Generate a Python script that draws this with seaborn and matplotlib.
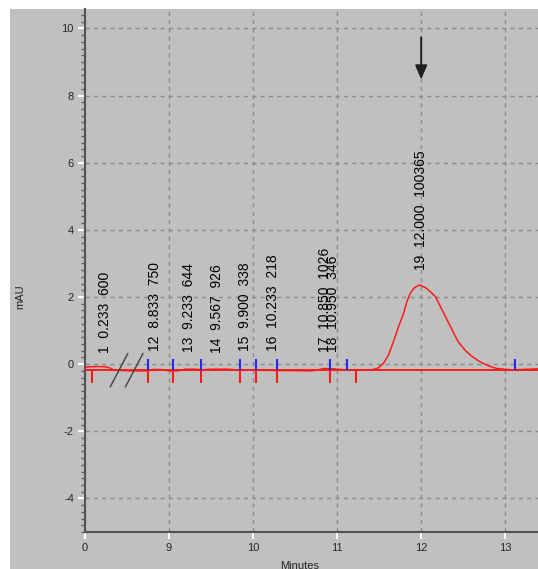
import matplotlib
matplotlib.use("Agg")
import matplotlib.pyplot as plt
import matplotlib.ticker as mticker
from matplotlib.patches import Rectangle
import numpy as np
import pandas as pd
import seaborn as sns

# ---- data (minutes / mAU) ----
# axis is broken: the first minute is drawn just before 8 min
trace_t = [0.00, 0.05, 0.15, 0.25, 0.30, 0.35, 0.45,
           8.55, 8.75, 8.80, 8.90, 9.00, 9.10, 9.20, 9.30, 9.40, 9.50, 9.70,
           9.85, 10.00, 10.30, 10.70, 10.85, 10.95, 11.10, 11.30,
           11.43, 11.49, 11.55, 11.61, 11.67, 11.73, 11.79, 11.83, 11.87, 11.92, 11.98,
           12.05, 12.11, 12.17, 12.23, 12.29, 12.37, 12.44, 12.52, 12.60, 12.70,
           12.80, 12.90, 13.08, 13.39]
trace_mau = [-0.10, -0.08, -0.07, -0.08, -0.12, -0.18, -0.19,
             -0.20, -0.20, -0.16, -0.16, -0.20, -0.20, -0.15, -0.15, -0.17, -0.15, -0.15,
             -0.18, -0.18, -0.19, -0.20, -0.13, -0.14, -0.17, -0.18,
             -0.16, -0.11, 0.02, 0.27, 0.67, 1.11, 1.51, 1.86, 2.11, 2.28, 2.36,
             2.28, 2.16, 2.01, 1.71, 1.41, 1.01, 0.67, 0.42, 0.24, 0.07,
             -0.05, -0.13, -0.17, -0.14]
baseline_mau = -0.18

peak_no = [1, 12, 13, 14, 15, 16, 17, 18, 19]
peak_rt = [0.233, 8.833, 9.233, 9.567, 9.900, 10.233, 10.850, 10.950, 12.000]
peak_area = [600, 750, 644, 926, 338, 218, 1026, 346, 100365]
peak_height = [-0.12, -0.05, -0.10, -0.12, -0.05, -0.05, -0.10, -0.10, 2.36]

start_marks = [8.754, 9.05, 9.38, 9.84, 10.04, 10.29, 10.917, 11.12, 13.12]
end_marks = [0.08, 8.754, 9.05, 9.38, 9.84, 10.04, 10.29, 10.917, 11.226]

x_ticks = [0, 9, 10, 11, 12, 13]
y_ticks = [-4, -2, 0, 2, 4, 6, 8, 10]
arrow_rt = 12.0
BREAK_OFFSET = 8.0   # minutes added to the early segment


def to_axis(t):
    t = np.asarray(t, dtype=float)
    return np.where(t < 1.0, t + BREAK_OFFSET, t)


sns.set_style("ticks")
plt.rcParams["font.family"] = ["Liberation Sans", "DejaVu Sans"]
plt.rcParams["axes.unicode_minus"] = False

W, H = 538, 569
fig = plt.figure(figsize=(W / 100, H / 100), dpi=100)
fig.patch.set_facecolor("white")
fig.patches.append(Rectangle((10 / W, 0), 1, 1 - 9 / H, transform=fig.transFigure,
                             facecolor="#c0c0c0", edgecolor="none", zorder=-10))

ax = fig.add_axes([85 / W, (H - 532) / H, (W - 85) / W, (532 - 9) / H])
ax.set_facecolor("#c0c0c0")

df = pd.DataFrame({"u": to_axis(trace_t), "mau": trace_mau})
sns.lineplot(data=df, x="u", y="mau", ax=ax, color="#ff1a1a", lw=1.1,
             sort=False, estimator=None, zorder=4)
ax.axhline(baseline_mau, color="#ff1a1a", lw=1.4, zorder=3)

# integration marks
ax.vlines(to_axis(start_marks), baseline_mau, baseline_mau + 0.33, color="#2626ff", lw=1.5, zorder=5)
ax.vlines(to_axis(end_marks), baseline_mau - 0.38, baseline_mau, color="#ff1a1a", lw=1.5, zorder=5)

# peak labels
for n, rt, area, h in zip(peak_no, peak_rt, peak_area, peak_height):
    ax.text(to_axis(rt), h + 0.45, f"{n}  {rt:.3f}  {area}", rotation=90,
            ha="center", va="bottom", fontsize=10, color="black", zorder=6)

# axis break marks
bu = to_axis(0.45)
for dx in (0.0, 0.18):
    ax.plot([bu - 0.15 + dx, bu + 0.06 + dx], [-0.68, 0.32], color="#404040", lw=1, zorder=6)

ax.annotate("", xy=(arrow_rt, 8.4), xytext=(arrow_rt, 9.82),
            arrowprops=dict(arrowstyle="-|>,head_length=0.7,head_width=0.3",
                            color="#202020", lw=1.4, mutation_scale=12), zorder=6)

ax.set_xlim(BREAK_OFFSET, 13.39)
ax.set_ylim(-5, 10.58)
ax.set_xticks(to_axis(x_ticks))
ax.set_xticklabels([str(v) for v in x_ticks])
ax.set_yticks(y_ticks)
ax.set_yticklabels([str(v) for v in y_ticks])
ax.yaxis.set_minor_locator(mticker.MultipleLocator(0.2))
ax.tick_params(axis="both", which="major", color="white", width=1.5, length=5,
               labelsize=8, pad=3)
ax.tick_params(axis="y", which="minor", color="#606060", width=1, length=3)
ax.grid(True, which="major", color="#8a8a8a", ls=(0, (3, 3)), lw=1)
ax.set_axisbelow(True)
for s in ("top", "right"):
    ax.spines[s].set_visible(False)
for s in ("left", "bottom"):
    ax.spines[s].set_color("#555555")
    ax.spines[s].set_linewidth(1.5)
ax.set_xlabel("")
ax.set_ylabel("")

fig.text(300 / W, 1 - 566 / H, "Minutes", ha="center", va="center", fontsize=8)
fig.text(20 / W, 1 - 297 / H, "mAU", ha="center", va="center", rotation=90, fontsize=8)

fig.savefig("out.png", dpi=100)
